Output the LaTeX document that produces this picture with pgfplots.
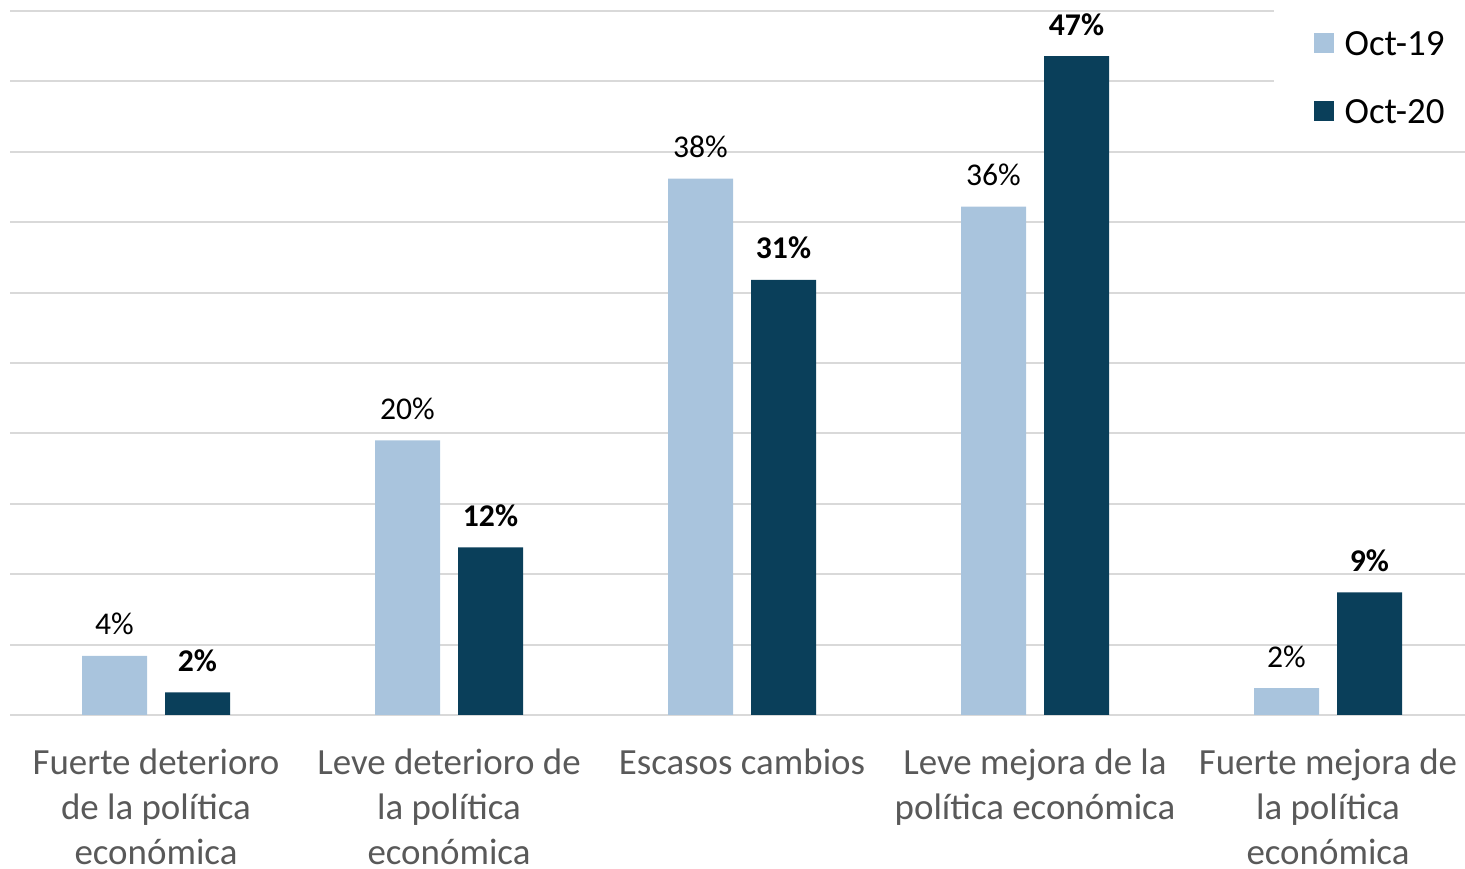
\documentclass[border=0pt]{standalone}
\usepackage{pgfplots}
\pgfplotsset{compat=1.18}
\usepackage{fontspec}
\setmainfont{Carlito}
\definecolor{c19}{HTML}{A9C4DD}
\definecolor{c20}{HTML}{0A3F5A}
\definecolor{gridc}{HTML}{D9D9D9}
\definecolor{lbl}{HTML}{595959}
% tick labels: first line carries the baseline
\newcommand{\lab}[1]{\begin{tabular}[t]{@{}c@{}}#1\end{tabular}}

\begin{document}
\begin{tikzpicture}
\begin{axis}[
  at={(0,0)}, anchor=south west,
  scale only axis, width=145.5mm, height=70.4mm,
  xmin=-0.4983, xmax=4.4676, ymin=0, ymax=50,
  ybar=1.8mm, bar width=6.5mm,
  axis line style={draw=none},
  major tick length=0pt,
  ytick={0,5,...,50}, yticklabels={},
  ymajorgrids, grid style={gridc, line width=0.55pt},
  xtick={0,...,4},
  xticklabels={{\lab{Fuerte deterioro\\de la política\\económica}},
    {\lab{Leve deterioro de\\la política\\económica}},
    {\lab{Escasos cambios}},
    {\lab{Leve mejora de la\\política económica}},
    {\lab{Fuerte mejora de\\la política\\económica}}},
  xticklabel style={font=\fontsize{10.5}{12.8}\selectfont, text=lbl,
    anchor=base, yshift=-6mm},
  point meta=explicit symbolic,
  nodes near coords={\pgfplotspointmeta\%},
  nodes near coords style={font=\fontsize{9}{10}\selectfont, text=black,
    anchor=base, yshift=2.1mm, inner sep=0pt},
  legend style={at={(rel axis cs:0.868,1.0085)}, anchor=north west,
    draw=none, fill=white, font=\fontsize{10.5}{12.8}\selectfont,
    inner xsep=4mm, inner ysep=2.55mm, row sep=4.4mm, column sep=1.1mm,
    nodes={inner sep=0pt, text height=2.4mm, text depth=0pt}},
  legend cell align=left,
  legend image code/.code={\fill[#1] (0mm,-1mm) rectangle (2mm,1mm);},
]
\addplot[fill=c19, draw=none] coordinates {
  (0,4.2) [4] (1,19.5) [20] (2,38.1) [38] (3,36.1) [36] (4,1.9) [2]};
\addplot[fill=c20, draw=none,
  every node near coord/.append style={font=\fontsize{9}{10}\selectfont\bfseries}]
  coordinates {
  (0,1.6) [2] (1,11.9) [12] (2,30.9) [31] (3,46.8) [47] (4,8.7) [9]};
\legend{Oct-19,Oct-20}
\end{axis}
\pgfresetboundingbox
\path (-1mm,-15.4mm) rectangle (145.5mm,71.5mm);
\end{tikzpicture}
\end{document}
